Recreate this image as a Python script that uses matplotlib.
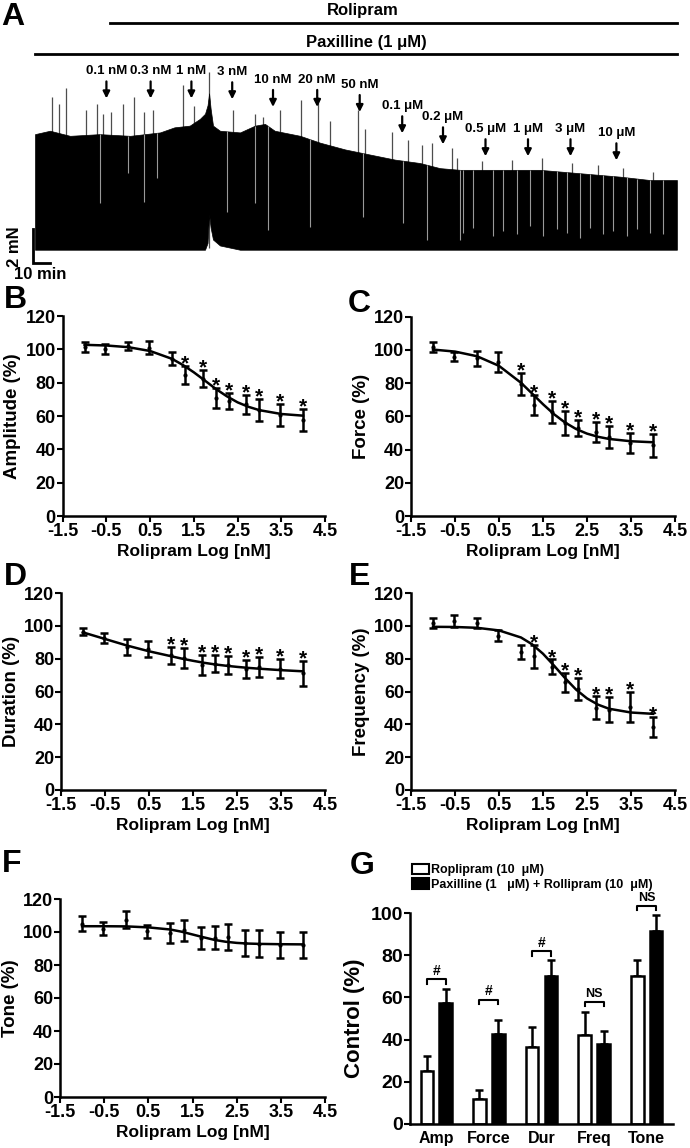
import numpy as np
import matplotlib
matplotlib.use('Agg')
import matplotlib.pyplot as plt
from matplotlib.patches import Patch

plt.rcParams['font.family'] = ['Liberation Sans', 'DejaVu Sans']
plt.rcParams['font.weight'] = 'bold'
plt.rcParams['axes.labelweight'] = 'bold'

# ---------------- panel A: force trace (min, mN) ----------------
env_t = [0, 8.8, 20.6, 38, 56, 73.5, 82, 91, 97, 100, 101.5, 102.4, 103.3, 104.7, 108.8, 120.6,
         129.4, 135.3, 141, 156, 167.6, 182.4, 197, 211.8, 226.5, 238.2, 250,
         273.5, 297, 320.6, 344, 361.8, 377.6]
env_top = [6.7, 6.9, 6.6, 6.7, 6.6, 6.8, 7.1, 7.2, 7.6, 7.9, 8.4, 9.1, 8.2, 7.2, 6.9, 6.8,
           7.2, 7.3, 6.9, 6.6, 6.2, 5.8, 5.5, 5.2, 5.0, 4.7, 4.6,
           4.6, 4.6, 4.4, 4.2, 4.0, 4.0]
env_bot = [-0.1, -0.1, -0.1, -0.1, -0.1, -0.1, -0.1, -0.1, -0.1, -0.1, 0.3, 2.0, 1.2, 0.5, 0.15, -0.1,
           -0.1, -0.1, -0.1, -0.1, -0.1, -0.1, -0.1, -0.1, -0.1, -0.1, -0.1,
           -0.1, -0.1, -0.1, -0.1, -0.1, -0.1]

spike_t = [10, 14.1, 18.2, 30, 36.5, 40, 44.7, 51.8, 58.2, 64.1, 69.4, 87.1, 93.5,
           102.4, 116.5, 129.4, 134.1, 144.1, 156.5, 166.5, 173.5, 190, 194.1, 210,
           219.4, 227.6, 233.5, 245.3, 248.2, 263, 280.6, 298.2, 315.9, 331.2, 345.9, 363.5]
spike_top = [8.9, 8.5, 9.4, 8.1, 8.5, 7.9, 8.0, 8.5, 8.9, 8.0, 8.1, 9.6, 8.35,
             10.35, 8.1, 7.9, 7.7, 8.1, 8.7, 8.9, 7.5, 8.1, 7.0, 6.8,
             6.35, 6.05, 6.2, 5.9, 5.3, 5.1, 5.2, 5.3, 5.0, 4.9, 4.7, 4.5]

# light streaks (gaps between contractions) inside the black band
gap_t = [38.2, 54.7, 64.1, 71.8, 112.9, 129.4, 137.1, 161.8, 192.9, 216.5, 230.6, 250,
         251.8, 257.6, 269.4, 275.3, 283.5, 291.2, 298.8, 307.1, 312.9, 320.6, 326.5,
         334.1, 340, 348.2, 354.1, 361.8, 369.4]
gap_low = [2.65, 4.4, 2.7, 4.1, 2.1, 2.65, 1.06, 1.24, 1.8, 1.5, 0.5, 0.5,
           0.9, 1.2, 0.7, 1.0, 0.8, 1.3, 0.7, 1.1, 0.9, 0.6, 1.2,
           0.8, 1.0, 0.7, 1.1, 0.9, 0.8]

dose_t = [42, 68, 92, 116, 140, 166, 191, 216, 240, 265, 290, 315, 342]
dose_labels = ['0.1 nM', '0.3 nM', '1 nM', '3 nM', '10 nM', '20 nM', '50 nM',
               '0.1 μM', '0.2 μM', '0.5 μM', '1 μM', '3 μM', '10 μM']
dose_label_y = [10.4, 10.4, 10.4, 10.35, 9.9, 9.9, 9.6, 8.35, 7.7, 7.0, 7.0, 7.0, 6.76]

# ---------------- panels B-F: concentration response ----------------
log_dose = np.log10([0.1, 0.3, 1, 3, 10, 20, 50, 100, 200, 500, 1000, 3000, 10000])
fit_x = [-1, -0.5, 0, 0.5, 1, 1.25, 1.5, 1.75, 2, 2.25, 2.5, 2.75, 3, 3.5, 4]

amp_mean = [101.5, 100.5, 102, 101, 94.5, 84.5, 82.5, 71, 69, 67, 63.5, 60.5, 57.5]
amp_sem = [3, 3, 2.5, 4, 4, 5.5, 5, 6, 5, 5.5, 6.5, 6.5, 6.5]
amp_star = [0, 0, 0, 0, 0, 1, 1, 1, 1, 1, 1, 1, 1]
amp_fit = [102.7, 102.3, 101.3, 99.0, 94.3, 90.6, 86.2, 81.3, 76.3, 71.9, 68.2, 65.5, 63.5, 61.2, 60.2]

force_mean = [101.5, 96, 95, 93, 79.5, 67, 62.5, 56, 53, 50.5, 47.5, 44, 42.5]
force_sem = [3, 2.5, 4.5, 6, 6.5, 6, 6.5, 7, 5, 6, 6.5, 6, 7]
force_star = [0, 0, 0, 0, 1, 1, 1, 1, 1, 1, 1, 1, 1]
force_fit = [100.2, 99.0, 96.2, 90.4, 80.2, 73.8, 67.3, 61.3, 56.3, 52.4, 49.6, 47.7, 46.4, 45.0, 44.4]

dur_mean = [96.5, 92.5, 87, 86, 82, 80.5, 76, 77, 76, 73.5, 75, 74, 71]
dur_sem = [2, 3, 5, 5, 5, 6, 6, 5, 5.5, 5.5, 6, 6, 7.5]
dur_star = [0, 0, 0, 0, 1, 1, 1, 1, 1, 1, 1, 1, 1]
dur_fit = [96, 92, 88, 84.5, 81.5, 80, 78.7, 77.5, 76.5, 75.7, 75, 74.4, 73.9, 73, 72.3]

freq_mean = [101.5, 103, 101.5, 94, 84, 81.5, 75, 65.5, 61.5, 50, 49, 50.5, 38.5]
freq_sem = [3, 3.5, 3, 3.5, 4.5, 7, 4.5, 6, 6.5, 7, 7.5, 9, 6]
freq_star = [0, 0, 0, 0, 0, 1, 1, 1, 1, 1, 1, 1, 1]
freq_fit = [99.4, 99.3, 98.8, 97.2, 92.9, 88.8, 83.0, 75.8, 68.2, 61.2, 55.8, 52.0, 49.5, 47.2, 46.4]

tone_mean = [105, 102, 107.5, 100.5, 99.5, 101, 96.5, 96.5, 97, 93.5, 93, 92, 92]
tone_sem = [4.5, 4, 5, 4, 6, 6.5, 6.5, 7, 8, 8, 8, 8, 8]
tone_star = [0] * 13
tone_fit = [103.5, 103.5, 103.4, 102.8, 101.5, 100.2, 98.5, 96.8, 95.2, 94.1, 93.4, 93.0, 92.8, 92.6, 92.5]

# ---------------- panel G ----------------
g_groups = ['Amp', 'Force', 'Dur', 'Freq', 'Tone']
g_roli = [25, 12, 36.5, 42, 70]
g_roli_err = [7, 4, 9.5, 11, 7.5]
g_pax = [57.5, 42.5, 70, 38, 91.5]
g_pax_err = [6.5, 7, 7.5, 6, 7.5]
g_bracket_y = [68.5, 59, 82, 58, 103.5]
g_sig = ['#', '#', '#', 'NS', 'NS']

W, H = 690, 1148
fig = plt.figure(figsize=(W / 100, H / 100), dpi=100)


def box(x0, x1, ytop, ybot):
    return [x0 / W, 1 - ybot / H, (x1 - x0) / W, (ybot - ytop) / H]


# ---- A ----
axA = fig.add_axes([0, 1 - 280 / H, 1, 280 / H])
axA.set_xlim(-20.6, 385.3)
axA.set_ylim(-1.88, 14.59)
axA.axis('off')
axA.vlines(spike_t, 0, spike_top, color='0.3', lw=0.9, zorder=1)
axA.fill_between(env_t, env_bot, env_top, color='black', lw=0.5, zorder=2)
gap_top = np.interp(gap_t, env_t, env_top)
axA.vlines(gap_t, gap_low, gap_top, color='0.6', lw=0.8, zorder=3)
narrow = ['DejaVu Sans Condensed', 'Liberation Sans']
for t, lab, ly in zip(dose_t, dose_labels, dose_label_y):
    axA.text(t, ly, lab, ha='center', va='center', fontsize=9.5, family=narrow)
    axA.annotate('', xy=(t, ly - 1.6), xytext=(t, ly - 0.6),
                 arrowprops=dict(arrowstyle='-|>', color='black', lw=1.6,
                                 mutation_scale=10, shrinkA=0, shrinkB=0))
axA.plot([44, 377.6], [13.24, 13.24], color='black', lw=2)
axA.plot([0, 377.6], [11.41, 11.41], color='black', lw=2)
axA.text(193, 13.95, 'Rolipram', ha='center', va='center', fontsize=12)
axA.text(195, 12.1, 'Paxilline (1 μM)', ha='center', va='center', fontsize=12)
# scale bar: 2 mN, 10 min
axA.plot([-1, -1, 9], [1.1, -0.9, -0.9], color='black', lw=2, solid_joinstyle='miter')
axA.text(-12, 0.1, '2 mN', rotation=90, ha='center', va='center', fontsize=12)
axA.text(3, -1.55, '10 min', ha='center', va='center', fontsize=12)


def curve_panel(rect, mean, sem, star, fit, ylabel):
    ax = fig.add_axes(rect)
    ax.errorbar(log_dose, mean, yerr=sem, fmt='none', ecolor='black',
                elinewidth=1.8, capsize=3, capthick=1.8, zorder=3)
    ax.plot(log_dose, mean, 'o', color='black', ms=2, zorder=4)
    ax.plot(fit_x, fit, color='black', lw=1.8, zorder=3)
    for x, m, s, f in zip(log_dose, mean, sem, star):
        if f:
            ax.annotate('*', (x, m + s), xytext=(0, -2.5), textcoords='offset points',
                        ha='center', va='baseline', fontsize=15)
    ax.set_xlim(-1.5, 4.5)
    ax.set_ylim(0, 120)
    ax.set_xticks([-1.5, -0.5, 0.5, 1.5, 2.5, 3.5, 4.5])
    ax.set_xticklabels(['-1.5', '-0.5', '0.5', '1.5', '2.5', '3.5', '4.5'])
    ax.set_yticks(range(0, 121, 20))
    ax.tick_params(labelsize=13, width=1.5, length=4, pad=1)
    for s in ['top', 'right']:
        ax.spines[s].set_visible(False)
    for s in ['left', 'bottom']:
        ax.spines[s].set_linewidth(1.8)
    ax.set_xlabel('Rolipram Log [nM]', fontsize=12.5, labelpad=3)
    ax.set_ylabel(ylabel, fontsize=13.5, labelpad=3)
    return ax


curve_panel(box(62.7, 325, 316, 516), amp_mean, amp_sem, amp_star, amp_fit, 'Amplitude (%)')
curve_panel(box(411, 675, 316.7, 516), force_mean, force_sem, force_star, force_fit, 'Force (%)')
curve_panel(box(61, 325, 593, 790), dur_mean, dur_sem, dur_star, dur_fit, 'Duration (%)')
curve_panel(box(411, 675, 593, 790), freq_mean, freq_sem, freq_star, freq_fit, 'Frequency (%)')
curve_panel(box(60, 325, 899, 1097), tone_mean, tone_sem, tone_star, tone_fit, 'Tone (%)')

# ---- G ----
axG = fig.add_axes(box(410, 673, 913, 1124))
gx = np.arange(len(g_groups))
off = 0.18
bw = 0.24
axG.bar(gx - off, g_roli, width=bw, color='white', edgecolor='black', lw=1.8, zorder=2)
axG.bar(gx + off, g_pax, width=bw, color='black', edgecolor='black', lw=1.8, zorder=2)
axG.errorbar(gx - off, g_roli, yerr=[np.zeros(5), g_roli_err], fmt='none', ecolor='black',
             elinewidth=1.8, capsize=3, capthick=1.8, zorder=1)
axG.errorbar(gx + off, g_pax, yerr=[np.zeros(5), g_pax_err], fmt='none', ecolor='black',
             elinewidth=1.8, capsize=3, capthick=1.8, zorder=1)
for x, by, lab in zip(gx, g_bracket_y, g_sig):
    axG.plot([x - off, x - off, x + off, x + off], [by - 2.3, by, by, by - 2.3],
             color='black', lw=1.5, clip_on=False)
    axG.text(x, by + 0.6, lab, ha='center', va='bottom', fontsize=9 if lab == 'NS' else 10)
axG.set_xlim(-0.5, 4.5)
axG.set_ylim(0, 100)
axG.set_yticks(range(0, 101, 20))
axG.set_xticks(gx)
axG.set_xticklabels(g_groups)
axG.tick_params(axis='y', labelsize=14, width=1.5, length=4, pad=1)
axG.tick_params(axis='x', labelsize=11.5, length=0, pad=5)
for s in ['top', 'right']:
    axG.spines[s].set_visible(False)
for s in ['left', 'bottom']:
    axG.spines[s].set_linewidth(1.8)
axG.set_ylabel('Control (%)', fontsize=16, labelpad=4)
handles = [Patch(facecolor='white', edgecolor='black', lw=1.5),
           Patch(facecolor='black', edgecolor='black', lw=1.5)]
fig.legend(handles, ['Roplipram (10  μM)', 'Paxilline (1   μM) + Rollipram (10  μM)'],
           loc='upper left', bbox_to_anchor=(412 / W, 1 - 864 / H), frameon=False,
           fontsize=9, handlelength=1.35, handleheight=0.9, handletextpad=0.15,
           labelspacing=0.15, borderpad=0, borderaxespad=0)

# panel letters
for lab, x, y in [('A', 13, 17), ('B', 15, 300), ('C', 359, 304), ('D', 15, 577),
                  ('E', 360, 577), ('F', 12, 864), ('G', 362, 866)]:
    fig.text(x / W, 1 - y / H, lab, ha='center', va='center', fontsize=23, fontweight='bold')

fig.savefig('out.png', dpi=100)
